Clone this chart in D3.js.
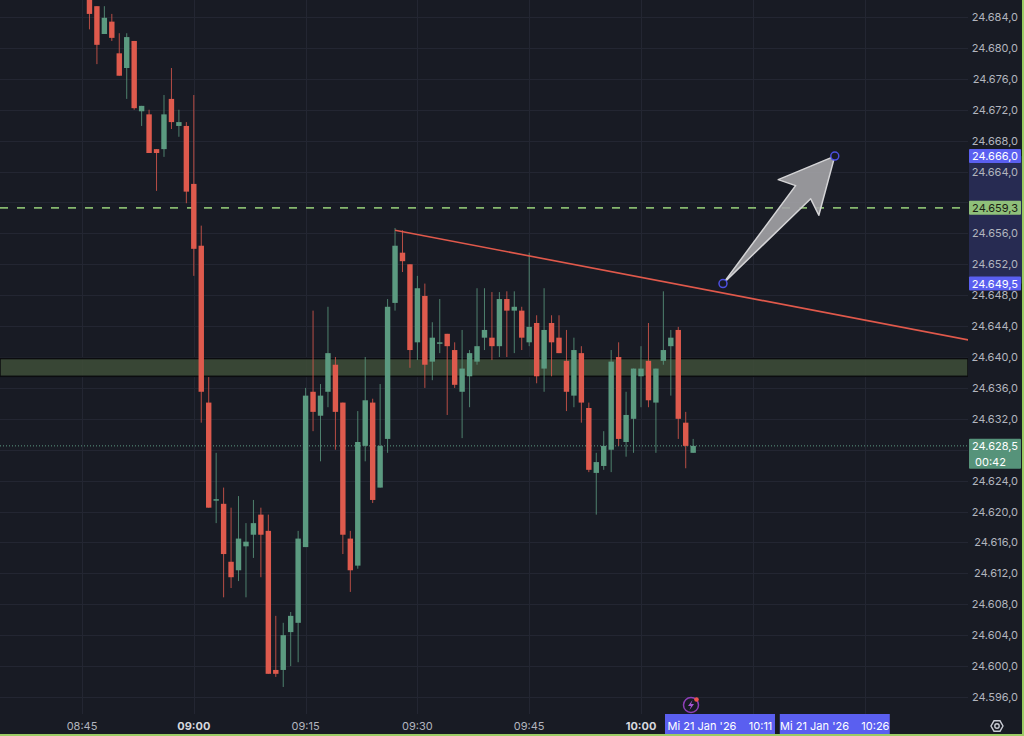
<!DOCTYPE html>
<html>
<head>
<meta charset="utf-8">
<script src="https://cdn.jsdelivr.net/npm/d3@7"></script>
<style>
  body { margin: 0; background: #181b24; }
  svg { display: block; font-family: "Inter", "Noto Sans", sans-serif; }
</style>
</head>
<body>
<svg id="chart" width="1024" height="736"></svg>
<script>
// one-minute candles, first one at 08:46
const startTime = '08:46';
const opens  = [24686.5,24685.4,24681.8,24683.4,24679.3,24677.4,24680.9,24671.8,24671.4,24666.9,24666.9,24673.4,24669.9,24669.9,24662.4,24654.4,24634.1,24621.5,24621.0,24613.5,24612.4,24615.5,24617.0,24619.6,24617.5,24599.5,24599.5,24604.4,24605.6,24615.4,24635.5,24632.4,24635.5,24639.0,24634.1,24616.5,24613.0,24628.5,24634.1,24623.1,24629.4,24647.0,24653.5,24652.0,24641.9,24647.9,24639.4,24641.9,24643.0,24640.9,24635.5,24637.5,24639.4,24642.5,24642.5,24641.4,24647.5,24646.0,24646.0,24641.9,24644.4,24638.5,24644.4,24642.5,24639.5,24635.0,24640.5,24633.4,24625.0,24625.9,24628.0,24640.0,24629.0,24632.0,24637.5,24639.5,24634.1,24639.5,24641.4,24643.5,24631.5,24627.6];
const highs  = [24686.8,24685.4,24685.4,24684.4,24681.9,24681.9,24680.9,24672.5,24672.0,24666.9,24673.9,24677.4,24672.0,24670.4,24673.9,24657.0,24637.4,24627.6,24623.1,24620.5,24622.0,24618.5,24621.5,24620.5,24619.6,24606.5,24605.6,24607.0,24617.5,24636.0,24646.0,24636.5,24646.5,24640.0,24634.1,24617.5,24633.0,24640.0,24634.6,24636.5,24647.5,24656.7,24656.4,24652.0,24650.5,24649.5,24644.5,24647.5,24643.0,24641.9,24643.5,24640.9,24648.9,24648.9,24648.4,24648.4,24648.5,24648.5,24646.5,24653.5,24645.4,24648.9,24645.4,24645.4,24643.5,24642.5,24641.4,24634.1,24627.6,24630.4,24640.9,24641.9,24635.5,24638.5,24641.4,24644.4,24638.5,24648.5,24643.5,24643.9,24632.9,24629.4];
const lows   = [24682.4,24677.9,24681.8,24680.9,24676.4,24673.4,24672.0,24669.9,24666.4,24661.5,24665.9,24669.5,24668.5,24659.9,24650.5,24631.5,24620.5,24618.5,24608.9,24610.1,24611.0,24608.9,24614.0,24611.5,24599.0,24598.6,24597.3,24600.0,24600.5,24615.4,24630.4,24626.5,24633.5,24628.0,24614.5,24609.6,24612.6,24626.5,24621.1,24623.1,24627.6,24646.0,24651.0,24638.6,24639.6,24636.0,24637.0,24640.5,24632.5,24636.0,24629.5,24633.5,24639.0,24640.9,24639.6,24640.0,24640.0,24640.5,24640.9,24641.4,24636.6,24635.5,24637.5,24640.5,24633.0,24633.5,24631.5,24625.1,24619.6,24625.4,24625.1,24628.5,24627.1,24627.6,24633.5,24633.5,24627.6,24639.0,24635.0,24629.4,24625.6,24627.6];
const closes = [24684.4,24680.4,24683.9,24681.3,24676.4,24681.4,24672.2,24672.5,24666.4,24666.4,24671.4,24670.4,24670.4,24661.4,24654.0,24635.5,24620.5,24621.6,24614.5,24611.5,24616.5,24616.1,24618.5,24617.0,24599.0,24599.0,24604.0,24606.5,24616.5,24635.0,24632.9,24635.0,24640.5,24632.9,24617.0,24612.4,24629.0,24634.4,24621.5,24628.5,24646.5,24654.4,24652.4,24640.9,24648.9,24639.0,24642.5,24641.9,24641.4,24636.4,24638.5,24640.5,24641.4,24643.5,24641.4,24647.5,24646.0,24646.5,24642.5,24643.9,24637.5,24643.5,24641.9,24640.5,24635.5,24640.9,24634.1,24625.4,24626.4,24628.5,24639.4,24629.4,24632.5,24638.5,24638.5,24634.4,24638.5,24640.9,24642.5,24632.0,24628.5,24628.5];

const priceTicks = d3.range(24596, 24685, 4);
const hiddenTicks = [24660, 24628];        // covered by price tags
const timeTicks = ['08:45','09:00','09:15','09:30','09:45','10:00','10:15','10:30'];
const boldTimes = ['09:00','10:00'];

const zone = [24639.8, 24637.5];           // green rectangle
const alertLevel = 24659.3;                // dashed line
const lastPrice = 24628.5, countdown = '00:42';
const trendA = ['09:27', 24656.4], trendB = ['10:44', 24642.2];
const arrowFrom = ['10:11', 24649.5], arrowTo = ['10:26', 24666.0];
const dateLabels = ["Mi 21 Jan '26    10:11", "Mi 21 Jan '26    10:26"];

const parse = d3.timeParse('%H:%M');
const t0 = parse(startTime);
const candles = opens.map((o, i) => ({
  t: d3.timeMinute.offset(t0, i), o, h: highs[i], l: lows[i], c: closes[i]
}));

const W = 1024, H = 736, plotR = 968, axisY = 714;
const x = d3.scaleTime().domain([parse('08:45'), parse('10:00')]).range([82, 641]);
const y = d3.scaleLinear().domain([24596, 24684]).range([697, 17]);
const loc = d3.formatLocale({decimal: ',', thousands: '.', grouping: [3], currency: ['', '']});
const fmt = loc.format(',.1f');

const UP = '#5b9a80', DOWN = '#de5a4d', GRID = '#232632';
const svg = d3.select('#chart');
svg.append('rect').attr('width', W).attr('height', H).attr('fill', '#181b24');

svg.append('defs').append('clipPath').attr('id', 'plot')
  .append('rect').attr('width', plotR).attr('height', axisY);

// grid
const grid = svg.append('g').attr('stroke', GRID).attr('stroke-width', 1);
grid.selectAll('.h').data(priceTicks).join('line')
  .attr('x1', 0).attr('x2', plotR).attr('y1', d => Math.round(y(d)) + .5).attr('y2', d => Math.round(y(d)) + .5);
grid.selectAll('.v').data(timeTicks).join('line')
  .attr('y1', 0).attr('y2', axisY).attr('x1', d => Math.round(x(parse(d))) + .5).attr('x2', d => Math.round(x(parse(d))) + .5);

// highlighted price range on axis
svg.append('rect').attr('x', plotR + 1).attr('width', W - plotR - 3)
  .attr('y', y(arrowTo[1])).attr('height', y(arrowFrom[1]) - y(arrowTo[1])).attr('fill', '#272b52');

const plot = svg.append('g').attr('clip-path', 'url(#plot)');

// zone
plot.append('rect').attr('x', 0).attr('width', plotR)
  .attr('y', y(zone[0])).attr('height', y(zone[1]) - y(zone[0]))
  .attr('fill', '#3e4e38').attr('fill-opacity', .85).attr('stroke', '#0b0c0f').attr('stroke-width', 1.5);

// alert line & last price line
plot.append('line').attr('x1', 0).attr('x2', plotR).attr('y1', y(alertLevel)).attr('y2', y(alertLevel))
  .attr('stroke', '#86b86e').attr('stroke-width', 1.6).attr('stroke-dasharray', '8,9');
plot.append('line').attr('x1', 0).attr('x2', plotR).attr('y1', y(lastPrice)).attr('y2', y(lastPrice))
  .attr('stroke', UP).attr('stroke-width', 1).attr('stroke-dasharray', '1,2');

// candles
const cg = plot.append('g').selectAll('g').data(candles).join('g')
  .attr('fill', d => d.c >= d.o ? UP : DOWN).attr('stroke', d => d.c >= d.o ? UP : DOWN);
cg.append('line').attr('x1', d => x(d.t)).attr('x2', d => x(d.t))
  .attr('y1', d => y(d.h)).attr('y2', d => y(d.l)).attr('stroke-width', 1).attr('stroke-opacity', .8);
cg.append('rect').attr('x', d => x(d.t) - 2.7).attr('width', 5.4).attr('stroke', 'none')
  .attr('y', d => y(Math.max(d.o, d.c))).attr('height', d => Math.max(1.5, Math.abs(y(d.o) - y(d.c))));

// trend line
const ax = x(parse(trendA[0])), ay = y(trendA[1]), bx = x(parse(trendB[0])), by = y(trendB[1]);
plot.append('line').attr('x1', ax).attr('y1', ay).attr('x2', bx).attr('y2', by)
  .attr('stroke', '#e0594b').attr('stroke-width', 1.6);

// arrow
const p0 = [x(parse(arrowFrom[0])), y(arrowFrom[1])], p1 = [x(parse(arrowTo[0])), y(arrowTo[1])];
const L = Math.hypot(p1[0] - p0[0], p1[1] - p0[1]);
const ang = Math.atan2(p1[1] - p0[1], p1[0] - p0[0]) * 180 / Math.PI;
const shape = [[0, 0], [L - 48, -10], [L - 55, -27], [L, 0], [L - 55, 27], [L - 48, 10]];
plot.append('path').attr('d', d3.line()(shape) + 'Z')
  .attr('transform', `translate(${p0}) rotate(${ang})`)
  .attr('fill', '#a3a3a6').attr('fill-opacity', .9).attr('stroke', '#d4d4d6').attr('stroke-width', 1.5).attr('stroke-linejoin', 'round');
[p0, p1].forEach(p => plot.append('circle').attr('cx', p[0]).attr('cy', p[1]).attr('r', 4)
  .attr('fill', '#181b24').attr('stroke', '#4c4fe0').attr('stroke-width', 1.5));

// price axis
svg.append('g').selectAll('text').data(priceTicks.filter(d => !hiddenTicks.includes(d))).join('text')
  .attr('x', 1018).attr('y', d => y(d) + 4).attr('text-anchor', 'end')
  .attr('font-size', 11).attr('fill', '#b2b5be').text(d => fmt(d));

function priceTag(v, bg, fg, extra) {
  const g = svg.append('g');
  const yy = y(v);
  g.append('rect').attr('x', plotR + 1).attr('y', yy - 7).attr('width', 52).attr('height', extra ? 30 : 14)
    .attr('rx', 1).attr('fill', bg);
  g.append('text').attr('x', 1018).attr('y', yy + 4).attr('text-anchor', 'end')
    .attr('font-size', 11).attr('fill', fg).text(fmt(v));
  if (extra) g.append('text').attr('x', 975).attr('y', yy + 20)
    .attr('font-size', 11).attr('fill', fg).text(extra);
}
priceTag(arrowTo[1], '#5a5ff0', '#ffffff');
priceTag(arrowFrom[1], '#5a5ff0', '#ffffff');
priceTag(alertLevel, '#8fc07a', '#1a2014');
priceTag(lastPrice, '#56937a', '#ffffff', countdown);

// time axis
svg.append('g').selectAll('text').data(timeTicks.slice(0, 6)).join('text')
  .attr('x', d => x(parse(d))).attr('y', 730).attr('text-anchor', 'middle').attr('font-size', 11)
  .attr('font-weight', d => boldTimes.includes(d) ? 700 : 400)
  .attr('fill', d => boldTimes.includes(d) ? '#d6d8de' : '#b2b5be').text(d => d);

[[arrowFrom[0], dateLabels[0]], [arrowTo[0], dateLabels[1]]].forEach(([t, lbl]) => {
  const cx = x(parse(t)) + (t === arrowFrom[0] ? -3 : 0);
  svg.append('rect').attr('x', cx - 55).attr('y', axisY).attr('width', 110).attr('height', 22).attr('fill', '#5a5ff0');
  svg.append('text').attr('x', cx).attr('y', 730).attr('text-anchor', 'middle').attr('font-size', 11)
    .attr('fill', '#ffffff').attr('xml:space', 'preserve').style('white-space', 'pre').text(lbl);
});

// lightning badge
const lb = svg.append('g').attr('transform', 'translate(691,705)');
lb.append('circle').attr('r', 7.5).attr('fill', 'none').attr('stroke', '#8e3fb8').attr('stroke-width', 1.5);
lb.append('path').attr('d', 'M1.5,-5 L-3,1 L0,1 L-1.5,5 L3,-1 L0,-1 Z').attr('fill', '#a855d6');
lb.append('circle').attr('cx', 5.5).attr('cy', -5.5).attr('r', 2.3).attr('fill', '#ef5350');

// settings gear
const gear = svg.append('g').attr('transform', 'translate(997,726)');
gear.append('path').attr('d', d3.range(6).map(i => {
  const a = i * Math.PI / 3; return [6 * Math.cos(a), 6 * Math.sin(a)];
}).map((p, i) => (i ? 'L' : 'M') + p).join('') + 'Z').attr('fill', 'none').attr('stroke', '#c9ccd4').attr('stroke-width', 1.4);
gear.append('circle').attr('r', 2.2).attr('fill', 'none').attr('stroke', '#c9ccd4').attr('stroke-width', 1.4);

// selection frame
svg.append('line').attr('x1', 0).attr('x2', W).attr('y1', 735).attr('y2', 735).attr('stroke', '#9ccc65').attr('stroke-width', 2);
svg.append('line').attr('x1', 1023).attr('x2', 1023).attr('y1', 0).attr('y2', H).attr('stroke', '#9ccc65').attr('stroke-width', 2);
</script>
</body>
</html>
